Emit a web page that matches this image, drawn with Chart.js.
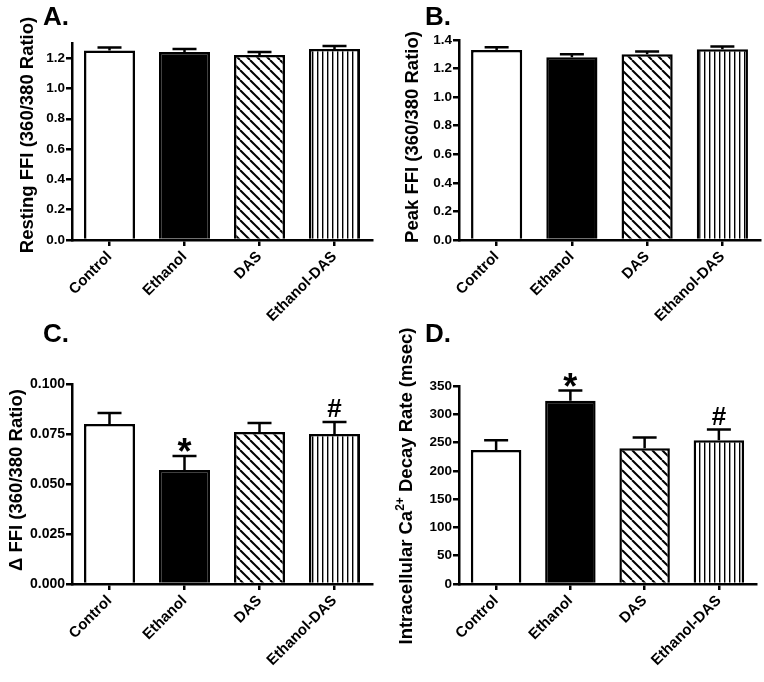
<!DOCTYPE html>
<html>
<head>
<meta charset="utf-8">
<script src="https://cdn.jsdelivr.net/npm/chart.js@4.4.1/dist/chart.umd.min.js"></script>
<style>
  body { margin: 0; background: #fff; }
  #wrap { position: relative; width: 764px; height: 682px; }
  canvas { position: absolute; }
</style>
</head>
<body>
<div id="wrap">
  <canvas id="chartA" width="382" height="341" style="left:0;top:0"></canvas>
  <canvas id="chartB" width="382" height="341" style="left:382px;top:0"></canvas>
  <canvas id="chartC" width="382" height="372" style="left:0;top:310px"></canvas>
  <canvas id="chartD" width="382" height="372" style="left:382px;top:310px"></canvas>
</div>
<script>
// Grupos y valores (media y error estándar)
const grupos = ['Control', 'Ethanol', 'DAS', 'Ethanol-DAS'];

const restingMedia = [1.25, 1.24, 1.22, 1.26];
const restingSem = [0.02, 0.02, 0.02, 0.02];

const peakMedia = [1.33, 1.28, 1.30, 1.335];
const peakSem = [0.02, 0.02, 0.02, 0.02];

const deltaMedia = [0.080, 0.057, 0.076, 0.075];
const deltaSem = [0.0055, 0.007, 0.0045, 0.006];

const decayMedia = [237, 324, 240, 254];
const decaySem = [17, 18, 19, 19];

// marcas de significancia (* vs control, # vs etanol)
const marcasC = ['', '*', '', '#'];
const marcasD = ['', '*', '', '#'];

// valores de las marcas del eje Y
const ticksA = [0, 0.2, 0.4, 0.6, 0.8, 1.0, 1.2];
const ticksB = [0, 0.2, 0.4, 0.6, 0.8, 1.0, 1.2, 1.4];
const ticksC = [0, 0.025, 0.05, 0.075, 0.1];
const ticksD = [0, 50, 100, 150, 200, 250, 300, 350];

const FUENTE = "'Liberation Sans', Arial, Helvetica, sans-serif";
Chart.defaults.font.family = FUENTE;
Chart.defaults.color = '#000';

// Patrones de relleno (rayado diagonal y vertical)
function patronDiagonal() {
    const c = document.createElement('canvas');
    c.width = 10; c.height = 10;
    const g = c.getContext('2d');
    g.fillStyle = '#fff';
    g.fillRect(0, 0, 10, 10);
    g.strokeStyle = '#000';
    g.lineWidth = 2;
    [-10, 0, 10].forEach(x0 => {
        g.beginPath();
        g.moveTo(x0, 0);
        g.lineTo(x0 + 10, 10);
        g.stroke();
    });
    return g.createPattern(c, 'repeat');
}

function patronVertical() {
    const c = document.createElement('canvas');
    c.width = 5; c.height = 5;
    const g = c.getContext('2d');
    g.fillStyle = '#fff';
    g.fillRect(0, 0, 5, 5);
    g.fillStyle = '#000';
    g.fillRect(2, 0, 1.4, 5);
    return g.createPattern(c, 'repeat');
}

const rellenos = ['#ffffff', '#000000', patronDiagonal(), patronVertical()];

const estiloMarca = {
    '*': { size: 36, dy: 8 },
    '#': { size: 26, dy: -5 }
};

// Barras de error, marcas, letra del panel y título del eje Y
const decoracion = {
    id: 'decoracion',
    afterDatasetsDraw(chart) {
        const cfg = chart.options.plugins.decoracion;
        const ctx = chart.ctx;
        const y = chart.scales.y;
        const meta = chart.getDatasetMeta(0);
        ctx.save();
        ctx.strokeStyle = '#000';
        ctx.lineWidth = 2.5;
        meta.data.forEach((bar, i) => {
            const yTop = y.getPixelForValue(cfg.media[i] + cfg.sem[i]);
            ctx.beginPath();
            ctx.moveTo(bar.x, bar.y);
            ctx.lineTo(bar.x, yTop);
            ctx.moveTo(bar.x - 12, yTop);
            ctx.lineTo(bar.x + 12, yTop);
            ctx.stroke();
            const m = cfg.marcas ? cfg.marcas[i] : '';
            if (m) {
                const est = estiloMarca[m];
                ctx.font = 'bold ' + est.size + 'px ' + FUENTE;
                ctx.fillStyle = '#000';
                ctx.textAlign = 'center';
                ctx.textBaseline = 'alphabetic';
                ctx.fillText(m, bar.x, yTop + est.dy);
            }
        });
        ctx.restore();
    },
    afterDraw(chart) {
        const cfg = chart.options.plugins.decoracion;
        const ctx = chart.ctx;
        ctx.save();
        ctx.fillStyle = '#000';
        ctx.font = 'bold 26px ' + FUENTE;
        ctx.textAlign = 'left';
        ctx.textBaseline = 'alphabetic';
        ctx.fillText(cfg.letra, 43, cfg.letraY);

        // título vertical con posible superíndice
        const normal = 'bold 18.5px ' + FUENTE;
        const sup = 'bold 12px ' + FUENTE;
        let total = 0;
        cfg.titulo.forEach(p => {
            ctx.font = p.sup ? sup : normal;
            total += ctx.measureText(p.t).width;
        });
        ctx.translate(cfg.tituloX, cfg.tituloY);
        ctx.rotate(-Math.PI / 2);
        ctx.textBaseline = 'middle';
        let x = -total / 2;
        cfg.titulo.forEach(p => {
            ctx.font = p.sup ? sup : normal;
            ctx.fillText(p.t, x, p.sup ? -6 : 0);
            x += ctx.measureText(p.t).width;
        });
        ctx.restore();
    }
};

function crearPanel(id, cfg) {
    const ctx = document.getElementById(id).getContext('2d');
    const canvasAlto = ctx.canvas.height;
    const ejeComun = {
        z: 1,
        grid: {
            display: true,
            drawOnChartArea: false,
            drawTicks: true,
            tickLength: 6,
            lineWidth: 2.5,
            tickWidth: 2.5,
            tickColor: '#000',
            color: '#000',
            offset: false
        },
        border: { display: true, color: '#000', width: 2.5 }
    };
    new Chart(ctx, {
        type: 'bar',
        data: {
            labels: grupos,
            datasets: [{
                data: cfg.media,
                backgroundColor: rellenos,
                borderColor: '#000',
                borderWidth: 2.5,
                borderSkipped: 'bottom',
                barPercentage: 0.68,
                categoryPercentage: 1
            }]
        },
        options: {
            responsive: false,
            animation: false,
            devicePixelRatio: 1,
            layout: { padding: { left: 0, top: cfg.arriba, right: cfg.derecha, bottom: 0 } },
            plugins: {
                legend: { display: false },
                tooltip: { enabled: false },
                decoracion: cfg
            },
            scales: {
                x: {
                    ...ejeComun,
                    ticks: {
                        color: '#000',
                        font: { size: 15, weight: 'bold' },
                        minRotation: 45,
                        maxRotation: 45,
                        autoSkip: false,
                        padding: 2
                    },
                    afterFit: s => { s.height = canvasAlto - cfg.abajo; }
                },
                y: {
                    ...ejeComun,
                    min: 0,
                    max: cfg.max,
                    ticks: {
                        color: '#000',
                        font: { size: cfg.tamTick, weight: 'bold' },
                        padding: 1,
                        callback: v => v.toFixed(cfg.decimales)
                    },
                    afterBuildTicks: s => { s.ticks = cfg.ticks.map(v => ({ value: v })); },
                    afterFit: s => { s.width = cfg.ejeIzq; }
                }
            }
        },
        plugins: [decoracion]
    });
}

crearPanel('chartA', {
    media: restingMedia, sem: restingSem, ticks: ticksA, max: 1.3, decimales: 1, tamTick: 13.5,
    letra: 'A.', letraY: 25,
    titulo: [{ t: 'Resting FFI (360/380 Ratio)' }], tituloX: 28, tituloY: 135,
    ejeIzq: 72, arriba: 43, abajo: 240, derecha: 10
});

crearPanel('chartB', {
    media: peakMedia, sem: peakSem, ticks: ticksB, max: 1.4, decimales: 1, tamTick: 13.5,
    letra: 'B.', letraY: 25,
    titulo: [{ t: 'Peak FFI (360/380 Ratio)' }], tituloX: 31, tituloY: 137,
    ejeIzq: 77, arriba: 40, abajo: 240, derecha: 4
});

crearPanel('chartC', {
    media: deltaMedia, sem: deltaSem, ticks: ticksC, max: 0.1, decimales: 3, tamTick: 14,
    marcas: marcasC,
    letra: 'C.', letraY: 32,
    titulo: [{ t: '\u0394 FFI (360/380 Ratio)' }], tituloX: 17, tituloY: 170,
    ejeIzq: 72, arriba: 74, abajo: 274, derecha: 10
});

crearPanel('chartD', {
    media: decayMedia, sem: decaySem, ticks: ticksD, max: 350, decimales: 0, tamTick: 13.5,
    marcas: marcasD,
    letra: 'D.', letraY: 32,
    titulo: [{ t: 'Intracellular Ca' }, { t: '2+', sup: true }, { t: ' Decay Rate (msec)' }],
    tituloX: 25, tituloY: 176,
    ejeIzq: 77, arriba: 76, abajo: 274, derecha: 8
});
</script>
</body>
</html>
